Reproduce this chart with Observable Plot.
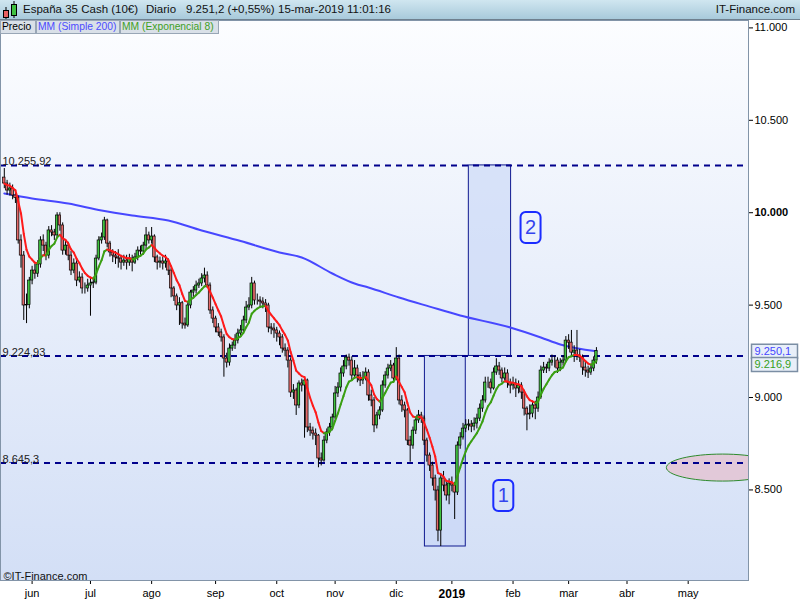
<!DOCTYPE html>
<html><head><meta charset="utf-8">
<script src="https://cdn.jsdelivr.net/npm/d3@7"></script>
<script src="https://cdn.jsdelivr.net/npm/@observablehq/plot@0.6"></script>
<style>
html,body{margin:0;padding:0;background:#fff;}
#wrap{position:relative;width:800px;height:600px;overflow:hidden;font-family:"Liberation Sans",Arial,sans-serif;}
#hdr{position:absolute;left:0;top:0;width:800px;height:19px;background:linear-gradient(#d0e6f0,#a8cadb);border-bottom:1px solid #6f808f;color:#111;font-size:11.5px;}
#hdr .t{position:absolute;top:3px;white-space:nowrap;}
#bg{position:absolute;left:0;top:20px;width:748px;height:560px;background:linear-gradient(#fcfdff,#d3dff6);}
#chart{position:absolute;left:0;top:20px;}
.lg{position:absolute;top:20px;height:14px;box-sizing:border-box;border:1px solid #98a6b6;background:#d9e0e8;font-size:10.3px;line-height:12px;padding-left:1px;white-space:nowrap;overflow:hidden;}
</style></head>
<body><div id="wrap">
<div id="bg"></div>
<div id="chart"></div>
<div id="hdr">
 <svg width="20" height="19" style="position:absolute;left:0;top:0">
  <line x1="6" y1="7" x2="6" y2="19" stroke="#000"/><rect x="3.5" y="10.5" width="5" height="7" fill="#e86060" stroke="#000"/>
  <line x1="14" y1="1" x2="14" y2="18" stroke="#000"/><rect x="11.5" y="4.5" width="5" height="11" fill="#40c040" stroke="#000"/>
 </svg>
 <span class="t" style="left:23px">España 35 Cash (10€)</span>
 <span class="t" style="left:146px">Diario</span>
 <span class="t" style="left:186px">9.251,2 (+0,55%)</span>
 <span class="t" style="left:278px">15-mar-2019 11:01:16</span>
 <span class="t" style="right:5px">IT-Finance.com</span>
</div>
<div class="lg" style="left:0;width:36px;color:#000">Precio</div>
<div class="lg" style="left:36px;width:84px;color:#4b4bff">MM (Simple 200)</div>
<div class="lg" style="left:120px;width:99px;color:#3f9f1f">MM (Exponencial 8)</div>
</div>
<script>
// Daily candles, trading-day index 0 = 18-may-2018 ... 213 = 15-mar-2019
const closes = [
10158,10120,10131,10093,10080,9850,9768,9498,9500,9633,
9687,9670,9720,9850,9822,9768,9904,9893,9877,9985,
9931,9795,9822,9768,9687,9725,9633,9649,9590,9590,
9606,9617,9622,9752,9850,9866,9958,9833,9785,9768,
9758,9752,9730,9741,9730,9752,9730,9758,9795,9790,
9822,9877,9850,9871,9758,9730,9736,9725,9736,9687,
9590,9547,9498,9510,9400,9390,9498,9568,9579,9606,
9617,9644,9660,9606,9471,9427,9379,9352,9325,9211,
9189,9265,9281,9308,9346,9363,9417,9487,9498,9617,
9525,9525,9519,9509,9498,9379,9373,9363,9346,9325,
9265,9254,9200,9027,9038,8957,9076,9065,9092,8838,
8821,8805,8794,8670,8659,8767,8811,8838,8892,9022,
9054,9130,9168,9216,9200,9119,9157,9119,9092,9103,
9135,9011,8984,8849,8903,8930,9065,9119,9157,9173,
9103,9211,8984,8957,8930,8767,8740,8821,8876,8903,
8886,8767,8686,8632,8562,8497,8280,8562,8524,8470,
8535,8524,8486,8740,8784,8832,8849,8854,8843,8859,
8886,8940,8984,9081,9081,9049,9135,9168,9146,9103,
9130,9081,9065,9076,9049,9065,9027,8940,8908,8913,
8957,8940,9000,9146,9162,9157,9189,9200,9200,9157,
9189,9200,9308,9297,9243,9254,9227,9216,9162,9146,
9135,9157,9200,9251];
const opens = [
10190,10158,10120,10131,10093,10080,9850,9768,9498,9500,
9633,9687,9670,9720,9850,9822,9768,9904,9893,9877,
9985,9931,9795,9822,9768,9687,9725,9633,9649,9590,
9590,9606,9617,9622,9752,9850,9866,9958,9833,9785,
9768,9758,9752,9730,9741,9730,9752,9730,9758,9795,
9790,9822,9877,9850,9871,9758,9730,9736,9725,9736,
9687,9590,9547,9498,9510,9400,9390,9498,9568,9579,
9606,9617,9644,9660,9606,9471,9427,9379,9352,9325,
9211,9189,9265,9281,9308,9346,9363,9417,9487,9498,
9617,9525,9525,9519,9509,9498,9379,9373,9363,9346,
9325,9265,9254,9200,9027,9038,8957,9076,9065,9092,
8838,8821,8805,8794,8670,8659,8767,8811,8838,8892,
9022,9054,9130,9168,9216,9200,9119,9157,9119,9092,
9103,9135,9011,8984,8849,8903,8930,9065,9119,9157,
9173,9103,9211,8984,8957,8930,8767,8740,8821,8876,
8903,8886,8767,8686,8632,8562,8497,8280,8562,8524,
8470,8535,8524,8486,8740,8784,8832,8849,8854,8843,
8859,8886,8940,8984,9081,9081,9049,9135,9168,9146,
9103,9130,9081,9065,9076,9049,9065,9027,8940,8908,
8913,8957,8940,9000,9146,9162,9157,9189,9200,9200,
9157,9189,9200,9308,9297,9243,9254,9227,9216,9162,
9146,9135,9157,9200];
const highs = [
10239,10175,10160,10150,10120,10090,9880,9790,9560,9650,
9710,9720,9740,9870,9880,9840,9925,9930,9910,10000,
10000,9945,9850,9840,9790,9750,9740,9680,9670,9620,
9640,9650,9650,9770,9870,9890,9975,9965,9845,9800,
9790,9800,9770,9770,9770,9775,9770,9780,9815,9820,
9840,9920,9895,9920,9880,9770,9760,9760,9770,9750,
9700,9600,9560,9540,9520,9430,9510,9580,9600,9630,
9640,9670,9700,9680,9620,9490,9440,9400,9370,9340,
9240,9290,9300,9340,9370,9390,9440,9520,9540,9650,
9630,9560,9545,9540,9530,9510,9400,9400,9380,9360,
9340,9290,9270,9215,9070,9050,9090,9100,9110,9100,
8860,8840,8830,8800,8700,8790,8830,8860,8910,9060,
9080,9160,9200,9230,9235,9220,9200,9175,9135,9140,
9160,9150,9040,9000,8920,8950,9090,9140,9180,9200,
9185,9270,9230,9010,8975,8940,8790,8840,8895,8930,
8920,8900,8780,8700,8650,8580,8520,8580,8600,8550,
8560,8570,8540,8760,8810,8860,8880,8880,8875,8890,
8910,8965,9010,9110,9110,9100,9160,9210,9190,9160,
9160,9150,9100,9110,9100,9090,9080,9040,8950,8960,
8980,8980,9030,9170,9190,9180,9210,9230,9225,9215,
9210,9225,9330,9340,9363,9280,9363,9260,9230,9190,
9170,9180,9220,9270];
const lows = [
10130,10095,10090,10070,10050,9830,9700,9417,9400,9480,
9610,9640,9650,9700,9790,9740,9750,9870,9850,9860,
9900,9770,9770,9740,9660,9670,9600,9620,9560,9560,
9570,9440,9590,9610,9740,9830,9850,9810,9760,9730,
9720,9700,9690,9710,9690,9710,9680,9720,9740,9770,
9770,9800,9830,9830,9730,9690,9700,9690,9700,9660,
9540,9520,9470,9390,9370,9370,9380,9480,9540,9560,
9590,9600,9620,9590,9450,9400,9350,9330,9300,9110,
9160,9170,9250,9260,9290,9330,9350,9400,9470,9480,
9500,9500,9490,9480,9460,9350,9340,9320,9300,9280,
9240,9220,9160,9000,8990,8903,8940,9030,8780,8810,
8790,8770,8740,8620,8630,8650,8750,8790,8820,8880,
9000,9030,9110,9150,9170,9090,9100,9080,9060,9070,
9090,8980,8950,8810,8830,8880,8920,9050,9100,9140,
9080,9090,8960,8920,8890,8740,8650,8720,8800,8860,
8860,8740,8650,8600,8520,8440,8220,8194,8490,8440,
8420,8490,8340,8470,8720,8770,8810,8820,8810,8820,
8830,8870,8920,8970,9050,9020,9040,9120,9120,9080,
9090,9050,9020,9040,9000,9020,8990,8900,8820,8880,
8890,8880,8920,8990,9130,9130,9140,9170,9160,9130,
9140,9170,9190,9260,9220,9190,9200,9190,9120,9110,
9103,9120,9140,9180];

// MM (Simple 200)
const smaDay   = [0,10,23,35,46,59,71,85,99,107,118,126,131,142,153,164,182,193,200,213];
const smaValue = [10104,10077,10050,10012,9985,9958,9904,9847,9785,9758,9671,9617,9595,9541,9492,9444,9379,9325,9287,9250];
const lastSma = 9250.1, lastEma = 9216.9;

// annotations
const levelValues = [10255.92, 9224.93, 8645.3];
const boxStartDay = [151.3, 167.1], boxEndDay = [166.0, 182.3];
const boxLow = [8194, 9224.93], boxHigh = [9224.93, 10255.92];
const tagText = ["1","2"], tagDay = [179.5, 189.3], tagValue = [8470, 9920];
const zoneDay = [258.3], zoneValue = [8621];

const monthTickDay   = [10,31,53,76,98,119,141,161,183,203,224,246];
const monthTickLabel = ["jun","jul","ago","sep","oct","nov","dic","2019","feb","mar","abr","may"];
const priceTicks = [8500,9000,9500,10000,10500,11000];

const loc = d3.formatLocale({decimal:",", thousands:".", grouping:[3], currency:["","€"]});
const fmtInt = loc.format(",.0f"), fmtLvl = loc.format(",.2~f"), fmt1 = loc.format(",.1f");
const labelOf = new Map(monthTickDay.map((d,i)=>[d, monthTickLabel[i]]));

const candles = closes.map((c,i)=>({day:i, open:opens[i], close:c, high:highs[i], low:lows[i]}));
const ema = [];
closes.forEach((c,i)=>ema.push(i===0 ? c : ema[i-1] + (c-ema[i-1])*2/9));
const emaSeg = ema.slice(1).map((v,k)=>({x1:k, y1:ema[k], x2:k+1, y2:v, col: v>=ema[k] ? "#3a9f12" : "#ff1a1a"}));
const boxes = boxStartDay.map((d,i)=>({x1:d, x2:boxEndDay[i], y1:boxLow[i], y2:boxHigh[i]}));
const tags = tagText.map((t,i)=>({t, d:tagDay[i], v:tagValue[i]}));
const zones = zoneDay.map((d,i)=>({d, v:zoneValue[i]}));
const sma = smaDay.map((d,i)=>({d, v:smaValue[i]}));

const ellipseSym = (rx, ry) => ({draw(ctx){ const k=0.5523;
  ctx.moveTo(-rx,0); ctx.bezierCurveTo(-rx,-ry*k,-rx*k,-ry,0,-ry);
  ctx.bezierCurveTo(rx*k,-ry,rx,-ry*k,rx,0); ctx.bezierCurveTo(rx,ry*k,rx*k,ry,0,ry);
  ctx.bezierCurveTo(-rx*k,ry,-rx,ry*k,-rx,0); ctx.closePath(); }});
const roundRectSym = (w,h,r) => ({draw(ctx){ const x0=-w/2,y0=-h/2,x1=w/2,y1=h/2;
  ctx.moveTo(x0+r,y0); ctx.lineTo(x1-r,y0); ctx.arcTo(x1,y0,x1,y0+r,r); ctx.lineTo(x1,y1-r);
  ctx.arcTo(x1,y1,x1-r,y1,r); ctx.lineTo(x0+r,y1); ctx.arcTo(x0,y1,x0,y1-r,r); ctx.lineTo(x0,y0+r);
  ctx.arcTo(x0,y0,x0+r,y0,r); ctx.closePath(); }});

const GREEN = "#3fc43f", RED = "#e56a6a";
const chart = Plot.plot({
  width: 800, height: 580, marginLeft: 0, marginRight: 52, marginTop: 0, marginBottom: 20,
  x: {domain: [-1.367, 267.7]},
  y: {domain: [8010, 11040]},
  color: {type: "identity"},
  style: {background: "transparent", fontFamily: '"Liberation Sans", Arial, sans-serif', fontSize: "11px", overflow: "visible"},
  marks: [
    Plot.rect(boxes, {x1:"x1", x2:"x2", y1:"y1", y2:"y2", fill:"#c6d5f6", fillOpacity:0.6, stroke:"#101a90", strokeWidth:1}),
    Plot.dot(zones, {x:"d", y:"v", r:5, symbol: ellipseSym(56,13.5), fill:"#e2c9d9", stroke:"#2e8b2e", strokeWidth:1, clip:true}),
    Plot.ruleY(levelValues, {stroke:"#00008c", strokeWidth:2, strokeDasharray:"6,5"}),
    Plot.text(levelValues, {y:d=>d, frameAnchor:"left", dx:2, lineAnchor:"bottom", textAnchor:"start", text:d=>fmtLvl(d), fill:"#222", fontSize:11}),
    Plot.line(sma, {x:"d", y:"v", stroke:"#4747ff", strokeWidth:2, curve:"monotone-x"}),
    Plot.ruleX(candles, {x:"day", y1:"low", y2:"high", stroke:"#000", strokeWidth:1}),
    Plot.rect(candles, {x1:d=>d.day-0.44, x2:d=>d.day+0.44, y1:d=>Math.min(d.open,d.close), y2:d=>Math.max(d.open,d.close),
      fill:d=>d.close>=d.open?GREEN:RED, stroke:"#000", strokeWidth:0.7}),
    Plot.link(emaSeg, {x1:"x1", y1:"y1", x2:"x2", y2:"y2", stroke:"col", strokeWidth:2, strokeLinecap:"round"}),
    Plot.dot(tags, {x:"d", y:"v", r:5, symbol: roundRectSym(20,31,5), fill:"none", stroke:"#1b2cff", strokeWidth:2}),
    Plot.text(tags, {x:"d", y:"v", text:"t", fontSize:20, fill:"#3444ee"}),
    Plot.axisY({anchor:"right", ticks:priceTicks, tickFormat:fmtInt, tickSize:4, tickPadding:2, fontSize:11}),
    Plot.axisX({anchor:"bottom", ticks:monthTickDay, tickFormat:d=>labelOf.get(d), tickSize:4, tickPadding:5, fontSize:11}),
    Plot.dot([lastSma], {y:d=>d, frameAnchor:"right", dx:26, r:5, symbol: roundRectSym(46,14,0), fill:"#e8eff9", stroke:"#7b8ea4"}),
    Plot.dot([lastEma], {y:d=>d, frameAnchor:"right", dx:26, dy:7, r:5, symbol: roundRectSym(46,14,0), fill:"#e8eff9", stroke:"#7b8ea4"}),
    Plot.text([lastSma], {y:d=>d, frameAnchor:"right", dx:6, textAnchor:"start", text:d=>fmt1(d), fill:"#4646ff", fontSize:11}),
    Plot.text([lastEma], {y:d=>d, frameAnchor:"right", dx:6, dy:7, textAnchor:"start", text:d=>fmt1(d), fill:"#35a020", fontSize:11}),
    Plot.text(["©IT-Finance.com"], {frameAnchor:"bottom-left", dx:3, dy:-1, textAnchor:"start", lineAnchor:"bottom", text:d=>d, fill:"#111", fontSize:11}),
    Plot.frame({stroke:"#8294a8"})
  ]
});
chart.querySelectorAll("text").forEach(t=>{
  if (t.textContent === "10.000") t.setAttribute("font-weight","bold");
  if (t.textContent === "2019") { t.setAttribute("font-weight","bold"); t.setAttribute("font-size","12"); }
});
document.getElementById("chart").appendChild(chart);
</script>
</body></html>
